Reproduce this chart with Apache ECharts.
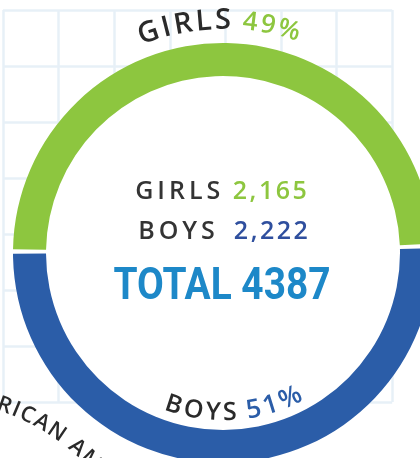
<!DOCTYPE html>
<html>
<head>
<meta charset="utf-8">
<script src="https://cdn.jsdelivr.net/npm/echarts@6.0.0/dist/echarts.min.js"></script>
<style>
  html, body { margin: 0; padding: 0; background: #fff; }
  #enrolment { width: 420px; height: 458px; }
</style>
</head>
<body>
<div id="enrolment"></div>
<script>
// data
const categories = ['GIRLS', 'BOYS']
const counts = [2165, 2222]
const countLabels = ['2,165', '2,222']
const percentLabels = ['49%', '51%']
const totalLabel = 'TOTAL 4387'
const neighbourLabel = 'AFRICAN AMERICAN'

const green = '#8dc63f'
const blue = '#2b5da8'
const dark = '#343434'
const CX = 223, CY = 253, R_IN = 177, R_OUT = 210

const ctx = document.createElement('canvas').getContext('2d')
const fontOf = (s) => `${s.weight || 600} ${s.size}px "Open Sans"`
const measure = (ch, font) => { ctx.font = font; return ctx.measureText(ch).width }

// split segments into single chars with their widths (for letter spacing)
const toChars = (segs, ls) => {
  const out = []
  segs.forEach((s) => [...s.text].forEach((ch) => {
    out.push({ ch, color: s.color, font: fontOf(s), w: measure(ch, fontOf(s)), ls: s.ls !== undefined ? s.ls : ls })
  }))
  return out
}
const widthOf = (list) => list.reduce((a, c, i) => a + c.w + (i < list.length - 1 ? c.ls : 0), 0)

const charEl = (c, x, y, rotation, align) => ({
  type: 'text', x, y, rotation, silent: true, z: 10,
  style: {
    text: c.ch, fill: c.color, font: c.font,
    align, textAlign: align, verticalAlign: 'middle', textVerticalAlign: 'middle',
  },
})

// text bent round a circle; inside = reads along the bottom, facing the centre
const arcText = (segs, ls, cx, cy, r, { mid, from, inside }) => {
  const list = toChars(segs, ls)
  const span = widthOf(list) / r
  let off = 0
  return list.map((c) => {
    const d = (off + c.w / 2) / r
    off += c.w + c.ls
    let a
    if (inside) a = mid + span / 2 - d
    else a = (from !== undefined ? from : mid - span / 2) + d
    const rot = inside ? Math.PI / 2 - a : -(a + Math.PI / 2)
    return charEl(c, cx + r * Math.cos(a), cy + r * Math.sin(a), rot, 'center')
  })
}

const lineText = (segs, ls, cx, y) => {
  const list = toChars(segs, ls)
  let x = cx - widthOf(list) / 2
  return list.map((c) => {
    const el = charEl(c, x, y, 0, 'left')
    x += c.w + c.ls
    return el
  })
}

const deg = (d) => (d * Math.PI) / 180
const share = counts[0] / (counts[0] + counts[1])

const totalFont = '700 45px Roboto'
const totalScale = 217 / measure(totalLabel, totalFont)

const chart = echarts.init(document.getElementById('enrolment'), null, { renderer: 'canvas' })
chart.setOption({
  animation: false,
  backgroundColor: '#ffffff',
  grid: { left: 3, top: 10, right: 420 - 3 - 7 * 55.6, bottom: 458 - 10 - 7 * 56 },
  xAxis: {
    type: 'value', min: 0, max: 7 * 55.6, interval: 55.6,
    axisLine: { show: false }, axisTick: { show: false }, axisLabel: { show: false },
    splitLine: { lineStyle: { color: '#e7f0f7', width: 2.5 } },
  },
  yAxis: {
    type: 'value', inverse: true, min: 0, max: 7 * 56, interval: 56,
    axisLine: { show: false }, axisTick: { show: false }, axisLabel: { show: false },
    splitLine: { lineStyle: { color: '#e7f0f7', width: 2.5 } },
  },
  graphic: [
    { type: 'circle', z: 1, silent: true, shape: { cx: CX, cy: CY, r: R_IN }, style: { fill: '#ffffff' } },
    ...arcText(
      [
        { text: categories[0], color: '#2a2a2a', size: 29, ls: 3.5 },
        { text: ' ', color: dark, size: 29, ls: 1 },
        { text: percentLabels[0], color: green, size: 26, ls: 3 },
      ],
      3, CX, CY, 232, { mid: deg(-91) }
    ),
    ...arcText(
      [
        { text: categories[1], color: '#2a2a2a', size: 25, ls: 2.5 },
        { text: ' ', color: dark, size: 25, ls: 1 },
        { text: percentLabels[1], color: blue, size: 26, ls: 2.5 },
      ],
      3, CX, CY, 160, { mid: deg(86), inside: true }
    ),
    ...arcText(
      [{ text: neighbourLabel, color: '#2a2a2a', size: 22 }],
      2, -74, 625, 233, { from: deg(-79.5) }
    ),
    ...lineText(
      [
        { text: categories[0], color: dark, size: 25, ls: 4 },
        { text: ' ', color: dark, size: 25, ls: 2 },
        { text: countLabels[0], color: green, size: 25, ls: 2.5 },
      ],
      3, 221, 192
    ),
    ...lineText(
      [
        { text: categories[1], color: dark, size: 25, ls: 4 },
        { text: '  ', color: dark, size: 25, ls: 1 },
        { text: countLabels[1], color: '#2f4f9e', size: 25, ls: 2.5 },
      ],
      3, 223, 232
    ),
    {
      type: 'text', x: 222, y: 288, scaleX: totalScale, silent: true, z: 10,
      style: {
        text: totalLabel, fill: '#1d88c8', font: totalFont,
        align: 'center', textAlign: 'center', verticalAlign: 'middle', textVerticalAlign: 'middle',
      },
    },
  ],
  series: [
    {
      type: 'pie',
      z: 3,
      center: [CX, CY],
      radius: [R_IN, R_OUT],
      // green midpoint sits just left of 12 o'clock, as drawn
      startAngle: 90.75 + share * 180,
      padAngle: 1.2,
      silent: true,
      label: { show: false },
      labelLine: { show: false },
      emphasis: { disabled: true },
      data: categories.map((name, i) => ({
        name,
        value: counts[i],
        itemStyle: { color: [green, blue][i] },
      })),
    },
  ],
})
</script>
</body>
</html>
